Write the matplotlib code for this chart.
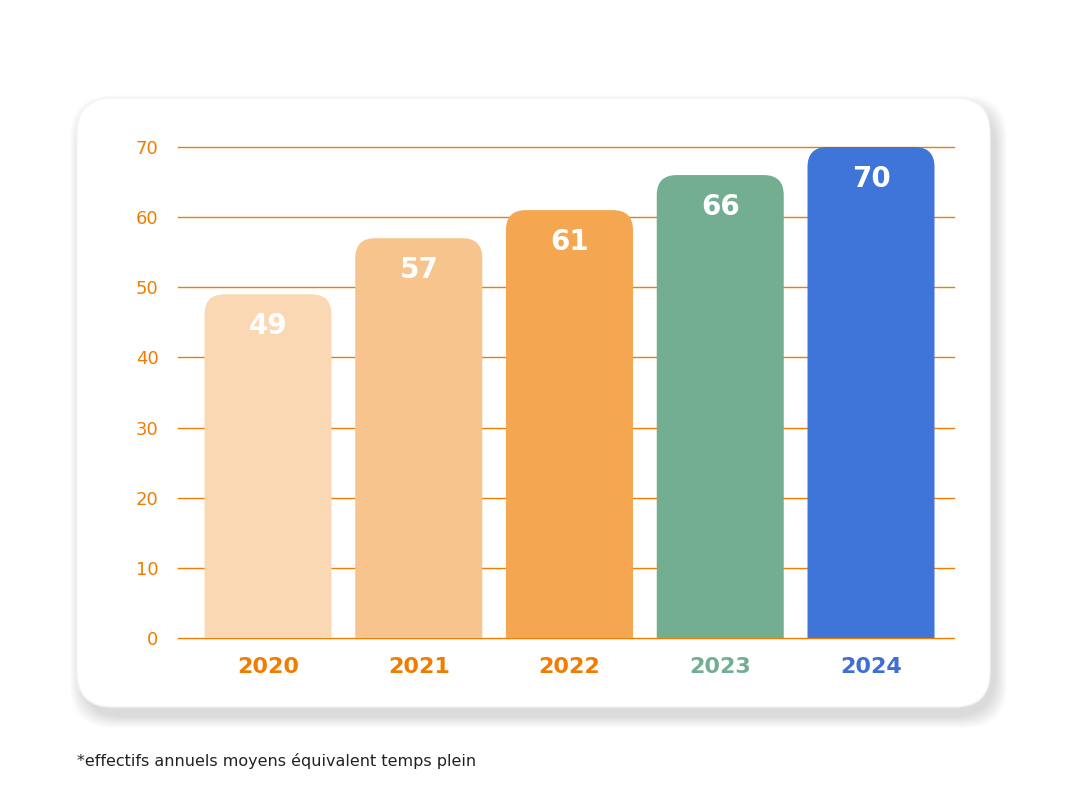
import matplotlib.pyplot as plt
import numpy as np
from matplotlib.patches import FancyBboxPatch

years = ["2020", "2021", "2022", "2023", "2024"]
values = [49, 57, 61, 66, 70]
bar_colors = ["#F9D8B3", "#F7C48D", "#F4A650", "#74AE92", "#3F74D8"]
label_colors = ["#F07D00", "#F07D00", "#F07D00", "#74AE92", "#3F6FD6"]
yticks = [0, 10, 20, 30, 40, 50, 60, 70]
footnote = "*effectifs annuels moyens équivalent temps plein"

W, H = 1067, 800
fig = plt.figure(figsize=(W / 100, H / 100), dpi=100)
fig.patch.set_facecolor("white")

# card with soft shadow (figure pixel coords -> fractions)
def fx(px):
    return px / W

def fy(py):
    return 1 - py / H

cx0, cy0, cx1, cy1 = 77, 98, 990, 707
for i in range(12):
    g = 24 - 2 * i
    sh = FancyBboxPatch((fx(cx0 + 5 - g / 2), fy(cy1 + 9 + g / 2)),
                        fx(cx1 - cx0 + g), (cy1 - cy0 + g) / H,
                        boxstyle="round,pad=0,rounding_size=0.04",
                        mutation_aspect=W / H,
                        transform=fig.transFigure, facecolor="black",
                        edgecolor="none", alpha=0.012, zorder=0)
    fig.patches.append(sh)
card = FancyBboxPatch((fx(cx0), fy(cy1)), fx(cx1 - cx0), (cy1 - cy0) / H,
                      boxstyle="round,pad=0,rounding_size=0.033",
                      mutation_aspect=W / H,
                      transform=fig.transFigure, facecolor="white",
                      edgecolor="#F4F4F4", linewidth=1, zorder=1)
fig.patches.append(card)

# axes
ax_l, ax_r, ax_t, ax_b = 178, 954, 147, 638
ax = fig.add_axes([fx(ax_l), fy(ax_b), fx(ax_r - ax_l), (ax_b - ax_t) / H])
ax.patch.set_alpha(0)
ax.set_zorder(2)

step = 150.75
x = np.arange(len(years))
xmin = (ax_l - 268) / step
xmax = (ax_r - 268) / step
ax.set_xlim(xmin, xmax)
ax.set_ylim(0, 70)

for t in yticks:
    ax.axhline(t, color="#F07D00", linewidth=1, zorder=1, clip_on=False)

px_per_x = (ax_r - ax_l) / (xmax - xmin)
px_per_y = (ax_b - ax_t) / 70
aspect = px_per_x / px_per_y
width = 127 / step
r = 20 / px_per_x
for xi, v, c in zip(x, values, bar_colors):
    p = FancyBboxPatch((xi - width / 2, -10), width, v + 10,
                       boxstyle="round,pad=0,rounding_size=%f" % r,
                       mutation_aspect=aspect, facecolor=c,
                       edgecolor="none", zorder=2, clip_on=True)
    ax.add_patch(p)
    ax.annotate(str(v), (xi, v), xytext=(0, -23), textcoords="offset points",
                ha="center", va="center", color="white", fontsize=20,
                fontweight="bold", zorder=3)

ax.set_yticks(yticks)
ax.set_yticklabels([str(t) for t in yticks], color="#F07D00", fontsize=13)
ax.tick_params(axis="y", length=0, pad=14)
ax.set_xticks(x)
ax.set_xticklabels(years, fontsize=16, fontweight="bold")
for lbl, c in zip(ax.get_xticklabels(), label_colors):
    lbl.set_color(c)
ax.tick_params(axis="x", length=0, pad=14)
for s in ax.spines.values():
    s.set_visible(False)

fig.text(fx(77), fy(761), footnote, fontsize=11.5, color="#222222",
         ha="left", va="center")

fig.savefig("out.png", dpi=100)
